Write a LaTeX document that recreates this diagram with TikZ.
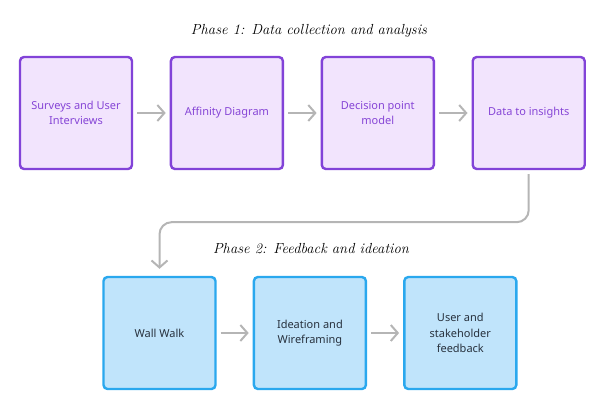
\documentclass[tikz,border=0pt]{standalone}
\usepackage{fontspec}
\setsansfont{Noto Sans}
\usetikzlibrary{positioning,arrows.meta}
\definecolor{purpleln}{HTML}{8243D8}
\definecolor{purplefl}{HTML}{F2E4FD}
\definecolor{purpletx}{HTML}{8645D6}
\definecolor{blueln}{HTML}{2AA8EE}
\definecolor{bluefl}{HTML}{C0E4FB}
\definecolor{bluetx}{HTML}{27313D}
\definecolor{arrgray}{HTML}{B5B5B5}
\begin{document}
\begin{tikzpicture}[x=1pt, y=-1pt, font=\sffamily\fontsize{11}{15.5}\selectfont, node distance=36.5pt, pbox/.style={draw=purpleln, fill=purplefl, text=purpletx, line width=2.4pt, rounded corners=4pt, minimum size=112pt, align=center, inner sep=2pt}, bbox/.style={pbox, draw=blueln, fill=bluefl, text=bluetx}, arr/.style={-{Straight Barb[length=7pt, width=16pt]}, line width=2pt, draw=arrgray, shorten <=4pt, shorten >=4pt}, phase/.style={font=\rmfamily\itshape\fontsize{14.6}{16}\selectfont}]
\useasboundingbox (0,0) rectangle (604,413);
\node[phase] (ph1) at (309,31) {Phase 1: Data collection and analysis};
\node[pbox] (svy) at (76,113) {Surveys and User\\Interviews};
\node[pbox, right=of svy] (aff) {Affinity Diagram};
\node[pbox, right=of aff] (dpm) {Decision point\\model};
\node[pbox, right=of dpm] (ins) {Data to insights};
\node[phase] (ph2) at (311,249) {Phase 2: Feedback and ideation};
\node[bbox] (ww) at (159.5,333) {Wall Walk};
\node[bbox, right=36pt of ww] (ide) {Ideation and\\Wireframing};
\node[bbox, right=36pt of ide] (fb) {User and\\stakeholder\\feedback};
\draw[arr] (svy) -- (aff); \draw[arr] (aff) -- (dpm); \draw[arr] (dpm) -- (ins);
\draw[arr, rounded corners=12pt, shorten >=7pt] (ins.south) -- ++(0,52) -| (ww.north);
\draw[arr] (ww) -- (ide); \draw[arr] (ide) -- (fb);
\end{tikzpicture}
\end{document}
